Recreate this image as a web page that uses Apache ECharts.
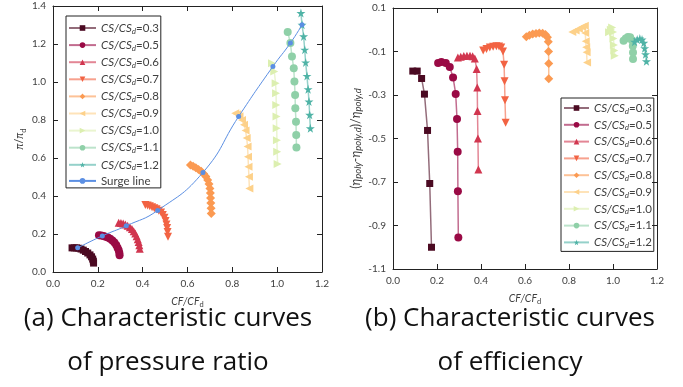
<!DOCTYPE html>
<html>
<head>
<meta charset="utf-8">
<script src="https://cdn.jsdelivr.net/npm/echarts@6/dist/echarts.min.js"></script>
<style>
  html, body { margin: 0; padding: 0; background: #fff; }
  #chart { width: 683px; height: 387px; }
</style>
</head>
<body>
<div id="chart"></div>
<script>
const speeds = ['0.3', '0.5', '0.6', '0.7', '0.8', '0.9', '1.0', '1.1', '1.2'];

// (a) pressure ratio lines: CF/CFd and pi/pid per speed
const prCf = [
  [0.085, 0.095, 0.105, 0.115, 0.125, 0.135, 0.145, 0.155, 0.165, 0.172, 0.177, 0.180, 0.181],
  [0.205, 0.215, 0.225, 0.235, 0.245, 0.255, 0.265, 0.274, 0.282, 0.288, 0.293, 0.296, 0.297],
  [0.293, 0.303, 0.313, 0.323, 0.333, 0.343, 0.352, 0.360, 0.367, 0.373, 0.378, 0.382, 0.385, 0.387],
  [0.412, 0.422, 0.432, 0.442, 0.452, 0.462, 0.472, 0.482, 0.490, 0.497, 0.502, 0.506, 0.509, 0.511, 0.513],
  [0.613, 0.625, 0.637, 0.649, 0.661, 0.672, 0.682, 0.690, 0.696, 0.700, 0.702, 0.703, 0.704, 0.705, 0.706],
  [0.813, 0.822, 0.832, 0.843, 0.852, 0.859, 0.864, 0.868, 0.870, 0.872, 0.874, 0.876],
  [0.977, 0.987, 0.993, 0.995, 0.996, 0.997, 0.998, 0.999, 1.000, 1.002],
  [1.047, 1.059, 1.066, 1.074, 1.077, 1.080, 1.081, 1.084, 1.085, 1.086],
  [1.106, 1.111, 1.118, 1.123, 1.127, 1.133, 1.138, 1.142, 1.145, 1.148]
];
const prVal = [
  [0.127, 0.127, 0.127, 0.125, 0.121, 0.115, 0.108, 0.100, 0.090, 0.080, 0.068, 0.057, 0.047],
  [0.193, 0.192, 0.190, 0.186, 0.181, 0.175, 0.166, 0.155, 0.142, 0.128, 0.114, 0.100, 0.088],
  [0.259, 0.258, 0.255, 0.250, 0.244, 0.236, 0.226, 0.215, 0.202, 0.188, 0.173, 0.158, 0.141, 0.123],
  [0.352, 0.350, 0.346, 0.341, 0.336, 0.330, 0.323, 0.313, 0.300, 0.285, 0.268, 0.250, 0.232, 0.210, 0.185],
  [0.563, 0.557, 0.549, 0.540, 0.530, 0.517, 0.502, 0.484, 0.463, 0.440, 0.416, 0.390, 0.363, 0.336, 0.308],
  [0.835, 0.830, 0.820, 0.800, 0.775, 0.745, 0.705, 0.660, 0.607, 0.554, 0.501, 0.440],
  [1.099, 1.055, 0.994, 0.941, 0.879, 0.818, 0.756, 0.694, 0.633, 0.568],
  [1.263, 1.205, 1.134, 1.073, 1.002, 0.932, 0.862, 0.791, 0.721, 0.655],
  [1.363, 1.301, 1.240, 1.170, 1.103, 1.032, 0.962, 0.897, 0.827, 0.756]
];

// surge line
const surgeCf = [0.110, 0.220, 0.327, 0.467, 0.669, 0.828, 0.981, 1.059, 1.111];
const surgePr = [0.127, 0.190, 0.243, 0.324, 0.524, 0.818, 1.082, 1.205, 1.301];

// (b) efficiency lines
const effCf = [
  [0.090, 0.110, 0.130, 0.143, 0.157, 0.167, 0.175],
  [0.205, 0.220, 0.240, 0.258, 0.273, 0.285, 0.291, 0.294, 0.295, 0.297],
  [0.295, 0.308, 0.322, 0.336, 0.350, 0.362, 0.372, 0.380, 0.383, 0.384, 0.386, 0.388],
  [0.410, 0.425, 0.440, 0.455, 0.470, 0.482, 0.492, 0.500, 0.505, 0.507, 0.509, 0.512],
  [0.606, 0.620, 0.635, 0.650, 0.665, 0.680, 0.693, 0.702, 0.706, 0.707, 0.708, 0.708],
  [0.815, 0.830, 0.845, 0.860, 0.872, 0.874, 0.876, 0.878, 0.880, 0.882],
  [0.982, 0.990, 0.996, 1.000, 1.002, 1.004, 1.006, 1.008],
  [1.048, 1.058, 1.068, 1.078, 1.086, 1.090, 1.091, 1.091],
  [1.098, 1.110, 1.122, 1.132, 1.140, 1.144, 1.148, 1.152]
];
const effVal = [
  [-0.190, -0.190, -0.224, -0.296, -0.463, -0.707, -1.000],
  [-0.153, -0.148, -0.153, -0.171, -0.219, -0.295, -0.410, -0.561, -0.743, -0.955],
  [-0.128, -0.124, -0.121, -0.119, -0.119, -0.122, -0.132, -0.180, -0.266, -0.373, -0.500, -0.642],
  [-0.095, -0.088, -0.082, -0.078, -0.076, -0.077, -0.082, -0.100, -0.161, -0.237, -0.324, -0.428],
  [-0.032, -0.025, -0.020, -0.017, -0.015, -0.016, -0.022, -0.035, -0.055, -0.100, -0.155, -0.225],
  [-0.010, -0.003, 0.005, 0.013, 0.018, -0.015, -0.053, -0.080, -0.104, -0.150],
  [-0.012, 0.000, 0.010, -0.010, -0.040, -0.070, -0.095, -0.120],
  [-0.050, -0.040, -0.033, -0.035, -0.048, -0.075, -0.105, -0.135],
  [-0.055, -0.045, -0.040, -0.045, -0.060, -0.085, -0.113, -0.145]
];

const effTicks = [-1.1, -0.9, -0.7, -0.5, -0.3, -0.1, 0.1];

const colors = ['#4b0a22', '#9a0a45', '#d1364f', '#f26343', '#fb9a52', '#fdd18a', '#dcefb0', '#8fd0a8', '#4fb3a6'];
const surgeColor = '#5b8fe3';
const star = 'path://M50,0 L61,35 L98,35 L68,57 L79,91 L50,70 L21,91 L32,57 L2,35 L39,35 Z';
const symbols = ['rect', 'circle', 'triangle', 'triangle', 'diamond', 'triangle', 'triangle', 'circle', star];
const rotates = [0, 0, 0, 180, 0, 90, -90, 0, 0];
const sizes = [7, 8, 8, 8, 9, 8, 8, 8, 9];

const font = 'Lato, "Open Sans", sans-serif';
const ink = '#404040';
const names = speeds.map(s => 'CS/CSd=' + s);

function makeRich(big, small, lh) {
  lh = lh || 14;
  return {
    t: { fontFamily: font, fontSize: big, color: ink, lineHeight: lh },
    i: { fontFamily: font, fontSize: big, color: ink, fontStyle: 'italic', lineHeight: lh },
    s: { fontFamily: font, fontSize: small, color: ink, fontStyle: 'italic', lineHeight: small, padding: [lh - small, 0, 0, 0] },
    su: { fontFamily: font, fontSize: small, color: ink, lineHeight: small, padding: [lh - small, 0, 0, 0] }
  };
}
const axisRich = makeRich(10.5, 7.5);
const legendRich = makeRich(11.5, 8);

function frameAxis(grid, pos, extra) {
  return Object.assign({
    type: 'value', gridIndex: grid, position: pos,
    axisLine: { show: true, onZero: false, lineStyle: { color: '#222', width: 1 } },
    axisTick: { show: true, inside: true, length: 5, lineStyle: { color: '#222' } },
    axisLabel: { show: false },
    splitLine: { show: false }
  }, extra);
}
function mainAxis(grid, pos, extra) {
  const a = frameAxis(grid, pos, extra);
  a.axisLabel = Object.assign({
    show: true, fontFamily: font, fontSize: 10, color: ink, margin: 7,
    formatter: v => v.toFixed(1)
  }, extra.axisLabel || {});
  return a;
}

const xBase = { min: 0, max: 1.2, interval: 0.2 };
const prBase = { min: 0, max: 1.4, interval: 0.2 };
const effBase = {
  min: -1.1, max: 0.1,
  axisTick: { show: true, inside: true, length: 5, lineStyle: { color: '#222' }, customValues: effTicks }
};

const xName = {
  name: '{i|CF/CF}{su|d}', nameLocation: 'middle', nameGap: 22,
  nameTextStyle: { rich: axisRich }
};

const series = [];
speeds.forEach((s, k) => {
  const common = {
    name: names[k], type: 'line',
    symbol: symbols[k], symbolSize: sizes[k], symbolRotate: rotates[k],
    itemStyle: { color: colors[k] },
    lineStyle: { color: colors[k], width: 1.5, opacity: 0.6 },
    z: 2
  };
  series.push(Object.assign({}, common, {
    xAxisIndex: 0, yAxisIndex: 0,
    data: prCf[k].map((x, j) => [x, prVal[k][j]])
  }));
  series.push(Object.assign({}, common, {
    xAxisIndex: 2, yAxisIndex: 2,
    data: effCf[k].map((x, j) => [x, effVal[k][j]])
  }));
});
series.push({
  name: 'Surge line', type: 'line', smooth: true,
  xAxisIndex: 0, yAxisIndex: 0,
  symbol: 'circle', symbolSize: 5,
  itemStyle: { color: surgeColor },
  lineStyle: { color: surgeColor, width: 1 },
  z: 5,
  data: surgeCf.map((x, j) => [x, surgePr[j]])
});

function legendFmt(n) {
  if (n.indexOf('CS/CSd=') !== 0) return '{t|' + n + '}';
  return '{i|CS/CS}{s|d}{t|=' + n.slice(7) + '}';
}

const legendCommon = {
  orient: 'vertical', itemHeight: 7,
  borderColor: '#222', borderWidth: 1,
  selectedMode: false,
  formatter: legendFmt,
  textStyle: { rich: legendRich }
};

const captionFont = '26px "Open Sans", sans-serif';

const option = {
  animation: false,
  backgroundColor: '#fff',
  grid: [
    { left: 53, top: 6, width: 269, height: 266 },
    { left: 393, top: 8, width: 264, height: 261 }
  ],
  xAxis: [
    mainAxis(0, 'bottom', Object.assign({}, xBase, xName)),
    frameAxis(0, 'top', xBase),
    mainAxis(1, 'bottom', Object.assign({}, xBase, xName)),
    frameAxis(1, 'top', xBase)
  ],
  yAxis: [
    mainAxis(0, 'left', Object.assign({}, prBase, {
      name: '{i|π}{t|/}{i|π}{su|d}', nameLocation: 'middle', nameGap: 26,
      nameTextStyle: { rich: axisRich }
    })),
    frameAxis(0, 'right', prBase),
    mainAxis(1, 'left', Object.assign({}, effBase, {
      axisLabel: { customValues: effTicks },
      name: '{t|(}{i|η}{s|poly}{t|-}{i|η}{s|poly,d}{t|)/}{i|η}{s|poly,d}',
      nameLocation: 'middle', nameGap: 30,
      nameTextStyle: { rich: makeRich(12.5, 9.5, 15) }
    })),
    frameAxis(1, 'right', effBase)
  ],
  legend: [
    Object.assign({}, legendCommon, {
      data: names.concat(['Surge line']),
      left: 66, top: 16,
      itemWidth: 27, itemGap: 3.1,
      padding: [5, 2, 1, 2]
    }),
    Object.assign({}, legendCommon, {
      data: names,
      left: 561, top: 98,
      itemWidth: 25, itemGap: 2.8,
      padding: [3, 2, 2, 2]
    })
  ],
  graphic: [
    {
      type: 'text', x: 168, y: 341,
      style: {
        text: '(a) Characteristic curves\nof pressure ratio',
        font: captionFont, fill: '#111', lineHeight: 44,
        textAlign: 'center', textVerticalAlign: 'middle'
      }
    },
    {
      type: 'text', x: 510, y: 341,
      style: {
        text: '(b) Characteristic curves\nof efficiency',
        font: captionFont, fill: '#111', lineHeight: 44,
        textAlign: 'center', textVerticalAlign: 'middle'
      }
    }
  ],
  series: series
};

const chart = echarts.init(document.getElementById('chart'));
chart.setOption(option);
</script>
</body>
</html>
